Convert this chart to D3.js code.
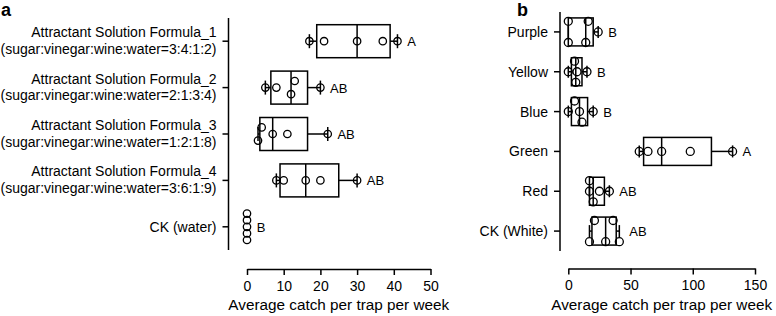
<!DOCTYPE html>
<html>
<head>
<meta charset="utf-8">
<script src="https://cdn.jsdelivr.net/npm/d3@7"></script>
<style>
  body { margin: 0; background: #fff; }
  svg { font-family: "Liberation Sans", Arial, sans-serif; }
</style>
</head>
<body>
<svg id="chart" width="776" height="316"></svg>
<script>
// panel a - attractant solutions
const catsA = [
  "Attractant Solution Formula_1\n(sugar:vinegar:wine:water=3:4:1:2)",
  "Attractant Solution Formula_2\n(sugar:vinegar:wine:water=2:1:3:4)",
  "Attractant Solution Formula_3\n(sugar:vinegar:wine:water=1:2:1:8)",
  "Attractant Solution Formula_4\n(sugar:vinegar:wine:water=3:6:1:9)",
  "CK (water)"
];
const valsA = [
  [17, 21, 30, 37, 41],
  [5, 8, 12, 13, 20],
  [3, 4, 7, 11, 22],
  [8, 10, 16, 20, 30],
  [0, 0, 0, 0, 0]
];
const lettersA = ["A", "AB", "AB", "AB", "B"];
const ticksA = [0, 10, 20, 30, 40, 50];

// panel b - trap colours
const catsB = ["Purple", "Yellow", "Blue", "Green", "Red", "CK (White)"];
const valsB = [
  [0, 0, 14, 16, 24],
  [0, 5, 6, 7, 15],
  [0, 5, 9, 11, 20],
  [57, 64, 75, 98, 132],
  [17, 17, 20, 25, 33],
  [17, 21, 30, 36, 41]
];
const lettersB = ["B", "B", "B", "A", "AB", "AB"];
const ticksB = [0, 50, 100, 150];

const svg = d3.select("#chart");

// prism style quantile, position (n+1)p
function quant(v, p) {
  let s = v.slice().sort((a, b) => a - b);
  let pos = (s.length + 1) * p;
  let lo = Math.max(1, Math.floor(pos)), hi = Math.min(s.length, Math.ceil(pos));
  return s[lo - 1] + (s[hi - 1] - s[lo - 1]) * (pos - lo);
}

// simple row based scatter so dots do not overlap
function scatterRows(px, minGap) {
  let order = px.map((x, i) => i).sort((a, b) => px[a] - px[b]);
  let rows = new Array(px.length);
  let cand = [0, -1, 1, -2, 2, -3, 3];
  order.forEach((i, k) => {
    for (let r of cand) {
      let clash = order.slice(0, k).some(j => rows[j] == r && Math.abs(px[j] - px[i]) < minGap);
      if (!clash) { rows[i] = r; break; }
    }
  });
  // clusters: chains of touching dots
  let clusters = [], cur = [];
  order.forEach((i, k) => {
    if (k > 0 && px[i] - px[order[k - 1]] >= minGap) { clusters.push(cur); cur = []; }
    cur.push(i);
  });
  clusters.push(cur);
  clusters.forEach(c => {
    let used = new Set(c.map(i => rows[i]));
    if (used.size == 2 && used.has(0) && used.has(-1)) c.forEach(i => { if (rows[i] == 0) rows[i] = 1; });
  });
  return rows;
}

function drawPanel(o) {
  const g = svg.append("g");
  const x = d3.scaleLinear().domain(o.domain).range(o.xRange);
  const y = d3.scalePoint().domain(o.cats).range(o.yRange).padding(0.5);

  // y axis
  g.append("line")
    .attr("x1", o.axisX).attr("x2", o.axisX)
    .attr("y1", o.yRange[0]).attr("y2", o.yRange[1])
    .attr("stroke", "#000").attr("stroke-width", 1.5);

  const cat = g.selectAll(".cat").data(o.cats).enter().append("g");
  cat.append("line")
    .attr("x1", o.axisX - 6).attr("x2", o.axisX)
    .attr("y1", d => y(d)).attr("y2", d => y(d))
    .attr("stroke", "#000").attr("stroke-width", 1.5);
  cat.append("text")
    .attr("text-anchor", "end")
    .attr("font-size", 14)
    .attr("fill", "#000")
    .each(function(d) {
      let lines = d.split("\n");
      let t = d3.select(this);
      lines.forEach((l, i) => {
        t.append("tspan")
          .attr("x", o.axisX - 12)
          .attr("y", lines.length == 1 ? y(d) + 5 : y(d) - 4 + i * 16.5)
          .text(l);
      });
    });

  // x axis
  const ax = g.append("g").attr("transform", `translate(0,${o.axisY})`)
    .call(d3.axisBottom(x).tickValues(o.ticks).tickSize(6).tickSizeOuter(0));
  ax.select(".domain").attr("stroke-width", 1.5);
  ax.selectAll(".tick line").attr("stroke-width", 1.5);
  ax.selectAll(".tick text").attr("font-size", 14).attr("dy", "0.9em")
    .attr("font-family", "Liberation Sans, Arial, sans-serif").attr("fill", "#000");

  g.append("text")
    .attr("x", (o.xRange[0] + o.xRange[1]) / 2).attr("y", o.axisY + 41)
    .attr("text-anchor", "middle").attr("font-size", 15.3).attr("fill", "#000")
    .text("Average catch per trap per week");

  g.append("text")
    .attr("x", o.labelX).attr("y", 16)
    .attr("font-size", 18).attr("font-weight", "bold")
    .text(o.panel);

  // boxes
  o.vals.forEach((v, i) => {
    const cy = y(o.cats[i]);
    const mn = d3.min(v), mx = d3.max(v);
    const q1 = quant(v, 0.25), md = quant(v, 0.5), q3 = quant(v, 0.75);
    const bh = o.boxH, ch = o.capH;
    const b = g.append("g").attr("stroke", "#000").attr("fill", "none").attr("stroke-width", 1.5);
    if (mx > mn) {
      b.append("rect")
        .attr("x", x(q1)).attr("y", cy - bh / 2)
        .attr("width", x(q3) - x(q1)).attr("height", bh);
      b.append("line").attr("x1", x(md)).attr("x2", x(md)).attr("y1", cy - bh / 2).attr("y2", cy + bh / 2);
      b.append("line").attr("x1", x(mn)).attr("x2", x(q1)).attr("y1", cy).attr("y2", cy);
      b.append("line").attr("x1", x(q3)).attr("x2", x(mx)).attr("y1", cy).attr("y2", cy);
      [mn, mx].forEach(e => {
        b.append("line").attr("x1", x(e)).attr("x2", x(e)).attr("y1", cy - ch / 2).attr("y2", cy + ch / 2);
      });
    }
    const px = v.map(d => x(d));
    const rows = scatterRows(px, o.gap);
    g.append("g").selectAll("circle").data(v).enter().append("circle")
      .attr("cx", d => x(d))
      .attr("cy", (d, k) => cy + rows[k] * o.rowStep)
      .attr("r", o.r)
      .attr("fill", "none").attr("stroke", "#000").attr("stroke-width", 1.3);

    g.append("text")
      .attr("x", x(mx) + o.r + 6).attr("y", cy + 5)
      .attr("font-size", 13).attr("fill", "#000")
      .text(o.letters[i]);
  });
}

drawPanel({
  panel: "a", labelX: 1,
  cats: catsA, vals: valsA, letters: lettersA, ticks: ticksA,
  domain: [0, 50], xRange: [247, 430.5], yRange: [18, 250],
  axisX: 228.5, axisY: 269, boxH: 33, capH: 14, r: 3.7, gap: 7, rowStep: 6.6
});

drawPanel({
  panel: "b", labelX: 517,
  cats: catsB, vals: valsB, letters: lettersB, ticks: ticksB,
  domain: [0, 150], xRange: [568.3, 755], yRange: [12, 251],
  axisX: 560, axisY: 268.5, boxH: 28, capH: 12, r: 4, gap: 8, rowStep: 10.6
});
</script>
</body>
</html>
